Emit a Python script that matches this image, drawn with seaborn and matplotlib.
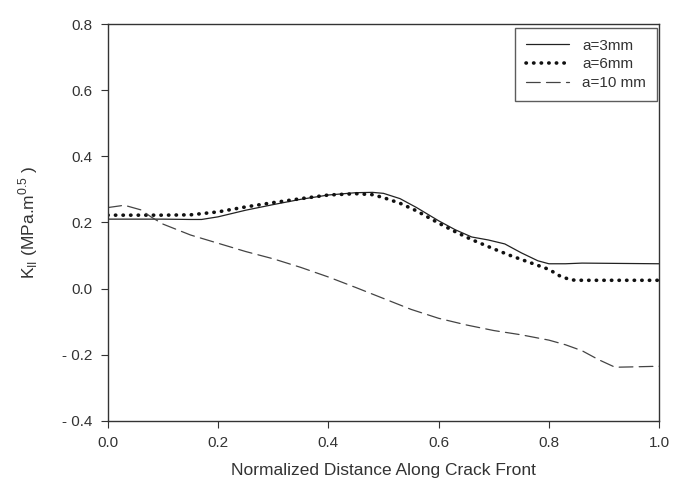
import matplotlib
matplotlib.use('Agg')
import matplotlib.pyplot as plt
import pandas as pd
import seaborn as sns

# data
x3 = [0.0, 0.10, 0.15, 0.17, 0.20, 0.25, 0.30, 0.35, 0.40, 0.45, 0.48, 0.50, 0.53, 0.56, 0.60, 0.63, 0.66, 0.69, 0.72, 0.75, 0.78, 0.80, 0.83, 0.86, 1.0]
k3 = [0.21, 0.21, 0.209, 0.209, 0.217, 0.237, 0.254, 0.27, 0.283, 0.29, 0.291, 0.288, 0.272, 0.245, 0.205, 0.178, 0.156, 0.147, 0.135, 0.108, 0.084, 0.075, 0.075, 0.077, 0.075]

x6 = [0.0, 0.10, 0.15, 0.20, 0.25, 0.30, 0.35, 0.40, 0.45, 0.48, 0.50, 0.53, 0.56, 0.60, 0.63, 0.66, 0.70, 0.73, 0.76, 0.80, 0.82, 0.84, 0.86, 1.0]
k6 = [0.222, 0.222, 0.223, 0.232, 0.247, 0.26, 0.272, 0.283, 0.287, 0.284, 0.275, 0.258, 0.235, 0.198, 0.172, 0.148, 0.12, 0.1, 0.082, 0.058, 0.038, 0.026, 0.025, 0.025]

x10 = [0.0, 0.03, 0.06, 0.08, 0.10, 0.15, 0.20, 0.25, 0.30, 0.35, 0.40, 0.45, 0.50, 0.55, 0.60, 0.65, 0.70, 0.75, 0.80, 0.83, 0.86, 0.89, 0.92, 0.95, 1.0]
k10 = [0.245, 0.252, 0.238, 0.215, 0.195, 0.162, 0.137, 0.112, 0.09, 0.064, 0.035, 0.003, -0.03, -0.063, -0.09, -0.11, -0.127, -0.14, -0.156, -0.17, -0.188, -0.215, -0.238, -0.237, -0.235]

labels = ['a=3mm', 'a=6mm', 'a=10 mm']

df = pd.concat([
    pd.DataFrame({'x': x3, 'k': k3, 'case': labels[0]}),
    pd.DataFrame({'x': x6, 'k': k6, 'case': labels[1]}),
    pd.DataFrame({'x': x10, 'k': k10, 'case': labels[2]}),
])

sns.set_style('ticks')
plt.rcParams['font.family'] = ['Liberation Sans', 'DejaVu Sans']
plt.rcParams['mathtext.fontset'] = 'custom'
plt.rcParams['mathtext.rm'] = 'Liberation Sans'

fig = plt.figure(figsize=(6.74, 4.82), dpi=100)
ax = fig.add_axes([0.160, 0.127, 0.818, 0.823])

ax = sns.lineplot(data=df, x='x', y='k', hue='case', style='case',
                  palette=['#222222', '#111111', '#444444'],
                  dashes={labels[0]: '', labels[1]: (0.1, 2.0), labels[2]: (11, 5)},
                  sort=False, ax=ax, legend=True)
lws = [0.9, 2.6, 0.9]
for line, lw in zip(ax.get_lines()[:3], lws):
    line.set_linewidth(lw)
    line.set_dash_capstyle('round')

ax.set_xlim(0, 1.0)
ax.set_ylim(-0.4, 0.8)
ax.set_xticks([0.0, 0.2, 0.4, 0.6, 0.8, 1.0])
ax.set_yticks([-0.4, -0.2, 0.0, 0.2, 0.4, 0.6, 0.8])
ax.set_xticklabels(['0.0', '0.2', '0.4', '0.6', '0.8', '1.0'])
ax.set_yticklabels(['- 0.4', '- 0.2', '0.0', '0.2', '0.4', '0.6', '0.8'])
ax.tick_params(direction='out', length=5, width=0.8, labelsize=11, colors='#333333', pad=6)
for s in ax.spines.values():
    s.set_color('#333333')
    s.set_linewidth(1.0)

ax.set_xlabel('Normalized Distance Along Crack Front', fontsize=12.5, color='#333333', labelpad=9)
ax.set_ylabel(r'K$_{\mathregular{II}}$ (MPa.m$^{\mathregular{0.5}}$ )', fontsize=12.5, color='#333333', labelpad=16)

handles, lbls = ax.get_legend_handles_labels()
leg = ax.legend(handles[-3:], lbls[-3:], loc='upper right', bbox_to_anchor=(0.996, 0.99),
                borderaxespad=0, frameon=True, fancybox=False, fontsize=11, handlelength=2.8,
                borderpad=0.7, labelspacing=0.3, handletextpad=0.9)
leg.get_frame().set_edgecolor('#333333')
leg.get_frame().set_linewidth(1.0)
for h, lw in zip(leg.get_lines(), lws):
    h.set_linewidth(lw)
    h.set_dash_capstyle('round')
for t in leg.get_texts():
    t.set_color('#333333')

fig.savefig('out.png', dpi=100)
